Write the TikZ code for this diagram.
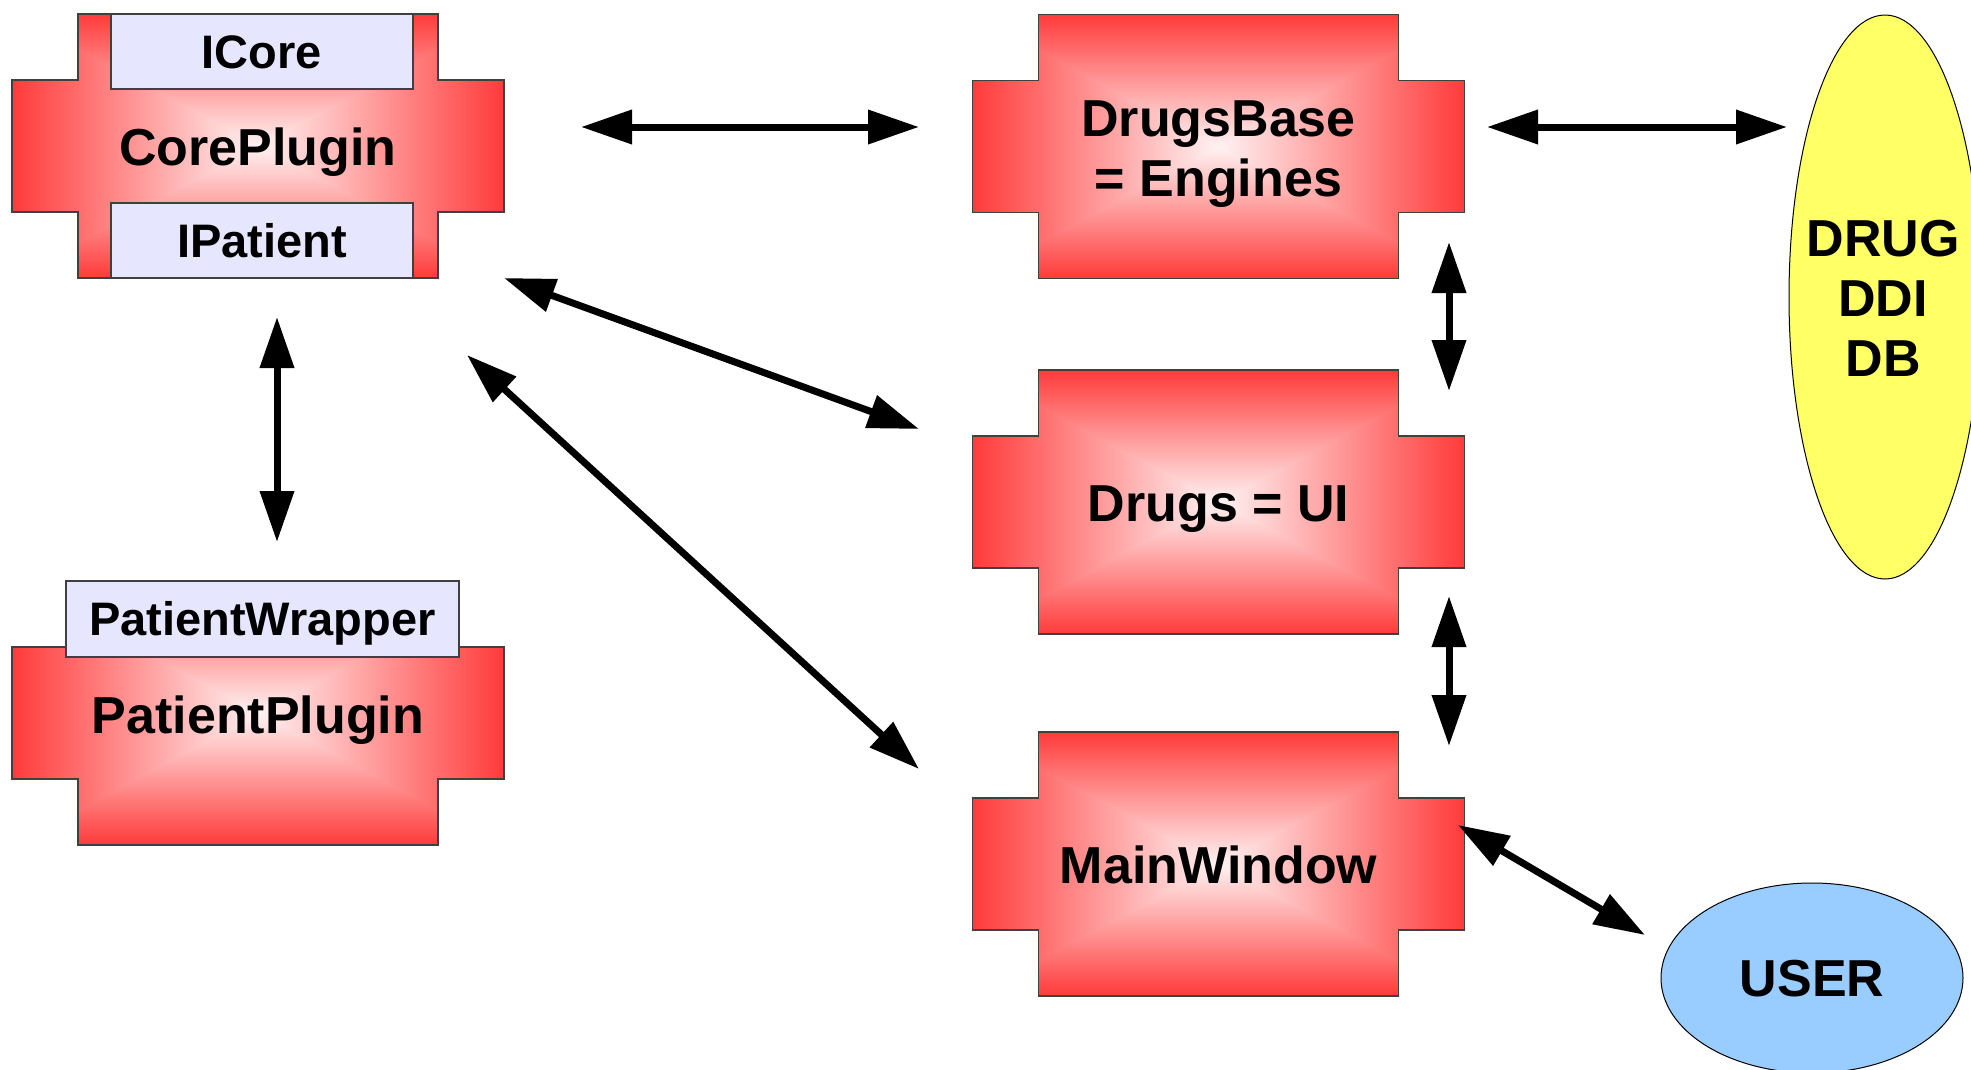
\documentclass[tikz,border=0pt]{standalone}
\usepackage{fontspec}
\setmainfont{Liberation Sans}
\usetikzlibrary{arrows.meta,shapes.geometric}

\pgfdeclarefunctionalshading{crossgrad}{\pgfpoint{-50bp}{-50bp}}{\pgfpoint{50bp}{50bp}}{}{
  abs exch abs 2 copy lt {exch} if pop
  25 div dup 1 gt {pop 1} if
  dup 0.72 mul 0.95 exch sub
  exch pop
  1 exch dup
}

\definecolor{ifacefill}{HTML}{E6E6FF}
\definecolor{dbfill}{HTML}{FFFF66}
\definecolor{userfill}{HTML}{99CCFF}
\definecolor{edge}{HTML}{404040}

\tikzset{
  crossbox/.pic={
    \path[shade, shading=crossgrad, draw=edge, line width=1.5pt]
      (-180,-132) -- (180,-132) -- (180,-66) -- (246,-66) -- (246,66) -- (180,66)
      -- (180,132) -- (-180,132) -- (-180,66) -- (-246,66) -- (-246,-66) -- (-180,-66) -- cycle;
  },
  maintext/.style={font=\bfseries\fontsize{52}{60}\selectfont, align=center, anchor=base, inner sep=0pt},
  iface/.style={draw=edge, fill=ifacefill, line width=1.5pt, rectangle, inner sep=0pt,
    font=\bfseries\fontsize{47}{56}\selectfont, text height=33.6pt, text depth=0pt},
  blob/.style={draw=black, line width=1pt, ellipse, inner sep=0pt},
  biarrow/.style={line width=7pt, {Triangle[length=51pt,width=33pt]}-{Triangle[length=51pt,width=33pt]}}
}

\begin{document}
\begin{tikzpicture}[x=1pt,y=-1pt]
\useasboundingbox (0,0) rectangle (1971,1069);
\clip (0,0) rectangle (1971,1069);

% cross-shaped plugin blocks
\pic at (258,146) {crossbox};
\pic at (258,713) {crossbox};
\pic at (1218.5,146.5) {crossbox};
\pic at (1218.5,502) {crossbox};
\pic at (1218.5,864) {crossbox};

% interface boxes
\node[iface, minimum width=302pt, minimum height=75pt] (icore) at (262,51.5) {ICore};
\node[iface, minimum width=302pt, minimum height=75pt] (ipatient) at (262,240.5) {IPatient};
\node[iface, minimum width=393pt, minimum height=76pt] (pwrap) at (262.5,619) {PatientWrapper};

% block labels (base anchor = baseline of the last line)
\node[maintext] (core) at (258,165) {CorePlugin};
\node[maintext] (patient) at (258,733) {PatientPlugin};
\node[maintext] (drugsbase) at (1218.5,196) {DrugsBase\\= Engines};
\node[maintext] (drugs) at (1218.5,521) {Drugs = UI};
\node[maintext] (mainwin) at (1218.5,883) {MainWindow};

% ellipses
\node[blob, fill=dbfill, minimum width=192pt, minimum height=564pt] (db) at (1885,297) {};
\node[maintext] (dbtext) at (1883,376) {DRUG\\DDI\\DB};
\node[blob, fill=userfill, minimum width=302pt, minimum height=190pt] (user) at (1812,978) {};
\node[maintext] (usertext) at (1812,996) {USER};

% connector end points
\coordinate (a1s) at (581,127);   \coordinate (a1e) at (919,127);
\coordinate (a2s) at (1487,127);  \coordinate (a2e) at (1787,127);
\coordinate (a3s) at (1449,242);  \coordinate (a3e) at (1449,391);
\coordinate (a4s) at (1449,596);  \coordinate (a4e) at (1449,746);
\coordinate (a5s) at (277,317);   \coordinate (a5e) at (277,542);
\coordinate (a6s) at (504,278);   \coordinate (a6e) at (919,429);
\coordinate (a7s) at (467,355);   \coordinate (a7e) at (919,769);
\coordinate (a8s) at (1458,825);  \coordinate (a8e) at (1645,935);

\draw[biarrow] (a1s) -- (a1e);
\draw[biarrow] (a2s) -- (a2e);
\draw[biarrow] (a3s) -- (a3e);
\draw[biarrow] (a4s) -- (a4e);
\draw[biarrow] (a5s) -- (a5e);
\draw[biarrow] (a6s) -- (a6e);
\draw[biarrow] (a7s) -- (a7e);
\draw[biarrow] (a8s) -- (a8e);
\end{tikzpicture}
\end{document}
